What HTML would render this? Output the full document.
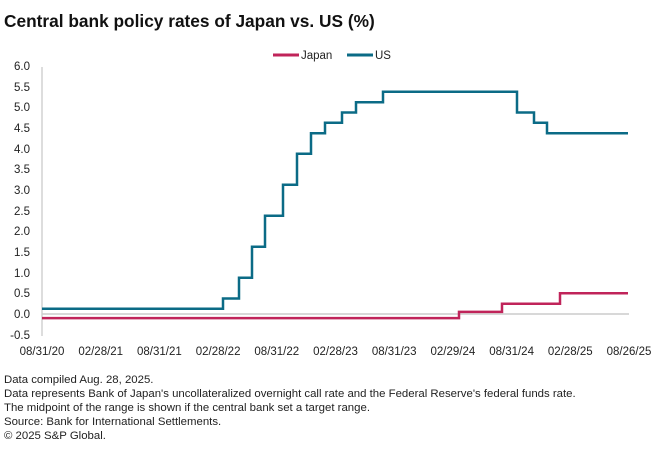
<!DOCTYPE html>
<html><head><meta charset="utf-8"><style>
body{margin:0;background:#fff;}
svg{display:block;font-family:"Liberation Sans",sans-serif;}
</style></head><body>
<svg width="660" height="458" viewBox="0 0 660 458">
<text x="4" y="27" font-size="17.3" font-weight="bold" fill="#111">Central bank policy rates of Japan vs. US (%)</text>
<line x1="273" y1="55" x2="299" y2="55" stroke="#c0245a" stroke-width="3"/>
<text x="301" y="59" font-size="11.5" fill="#222">Japan</text>
<line x1="347" y1="55" x2="373" y2="55" stroke="#0b6b86" stroke-width="3"/>
<text x="375" y="59" font-size="11.5" fill="#222">US</text>
<g font-size="11.5" fill="#222" text-anchor="end">
<text x="30" y="70">6.0</text><text x="30" y="91">5.5</text><text x="30" y="111">5.0</text><text x="30" y="132">4.5</text><text x="30" y="153">4.0</text><text x="30" y="173">3.5</text><text x="30" y="194">3.0</text><text x="30" y="215">2.5</text><text x="30" y="235">2.0</text><text x="30" y="256">1.5</text><text x="30" y="277">1.0</text><text x="30" y="297">0.5</text><text x="30" y="318">0.0</text><text x="30" y="339">-0.5</text>
</g>
<g font-size="11.5" fill="#222" text-anchor="middle">
<text x="42" y="355">08/31/20</text><text x="100.7" y="355">02/28/21</text><text x="159.4" y="355">08/31/21</text><text x="218.1" y="355">02/28/22</text><text x="276.8" y="355">08/31/22</text><text x="335.5" y="355">02/28/23</text><text x="394.2" y="355">08/31/23</text><text x="452.9" y="355">02/29/24</text><text x="511.6" y="355">08/31/24</text><text x="570.3" y="355">02/28/25</text><text x="629" y="355">08/26/25</text>
</g>
<line x1="42" y1="67" x2="42" y2="336" stroke="#bbb" stroke-width="1"/>
<line x1="42" y1="314" x2="629" y2="314" stroke="#ccc" stroke-width="1.5"/>
<polyline fill="none" stroke="#0b6b86" stroke-width="2.5" points="42,308.8 223,308.8 223,298.5 239,298.5 239,277.8 252,277.8 252,246.8 265,246.8 265,215.8 283,215.8 283,184.8 297,184.8 297,153.8 311,153.8 311,133.2 325,133.2 325,122.8 342,122.8 342,112.5 356,112.5 356,102.2 383,102.2 383,91.8 517,91.8 517,112.5 534,112.5 534,122.8 547,122.8 547,133.2 628,133.2"/>
<polyline fill="none" stroke="#c0245a" stroke-width="2.5" points="42,318.1 459,318.1 459,311.9 502,311.9 502,303.7 560,303.7 560,293.3 628,293.3"/>
<g font-size="11.4" fill="#222">
<text x="4" y="383">Data compiled Aug. 28, 2025.</text>
<text x="4" y="397">Data represents Bank of Japan's uncollateralized overnight call rate and the Federal Reserve's federal funds rate.</text>
<text x="4" y="411">The midpoint of the range is shown if the central bank set a target range.</text>
<text x="4" y="425">Source: Bank for International Settlements.</text>
<text x="4" y="439">© 2025 S&amp;P Global.</text>
</g>
</svg>
</body></html>
